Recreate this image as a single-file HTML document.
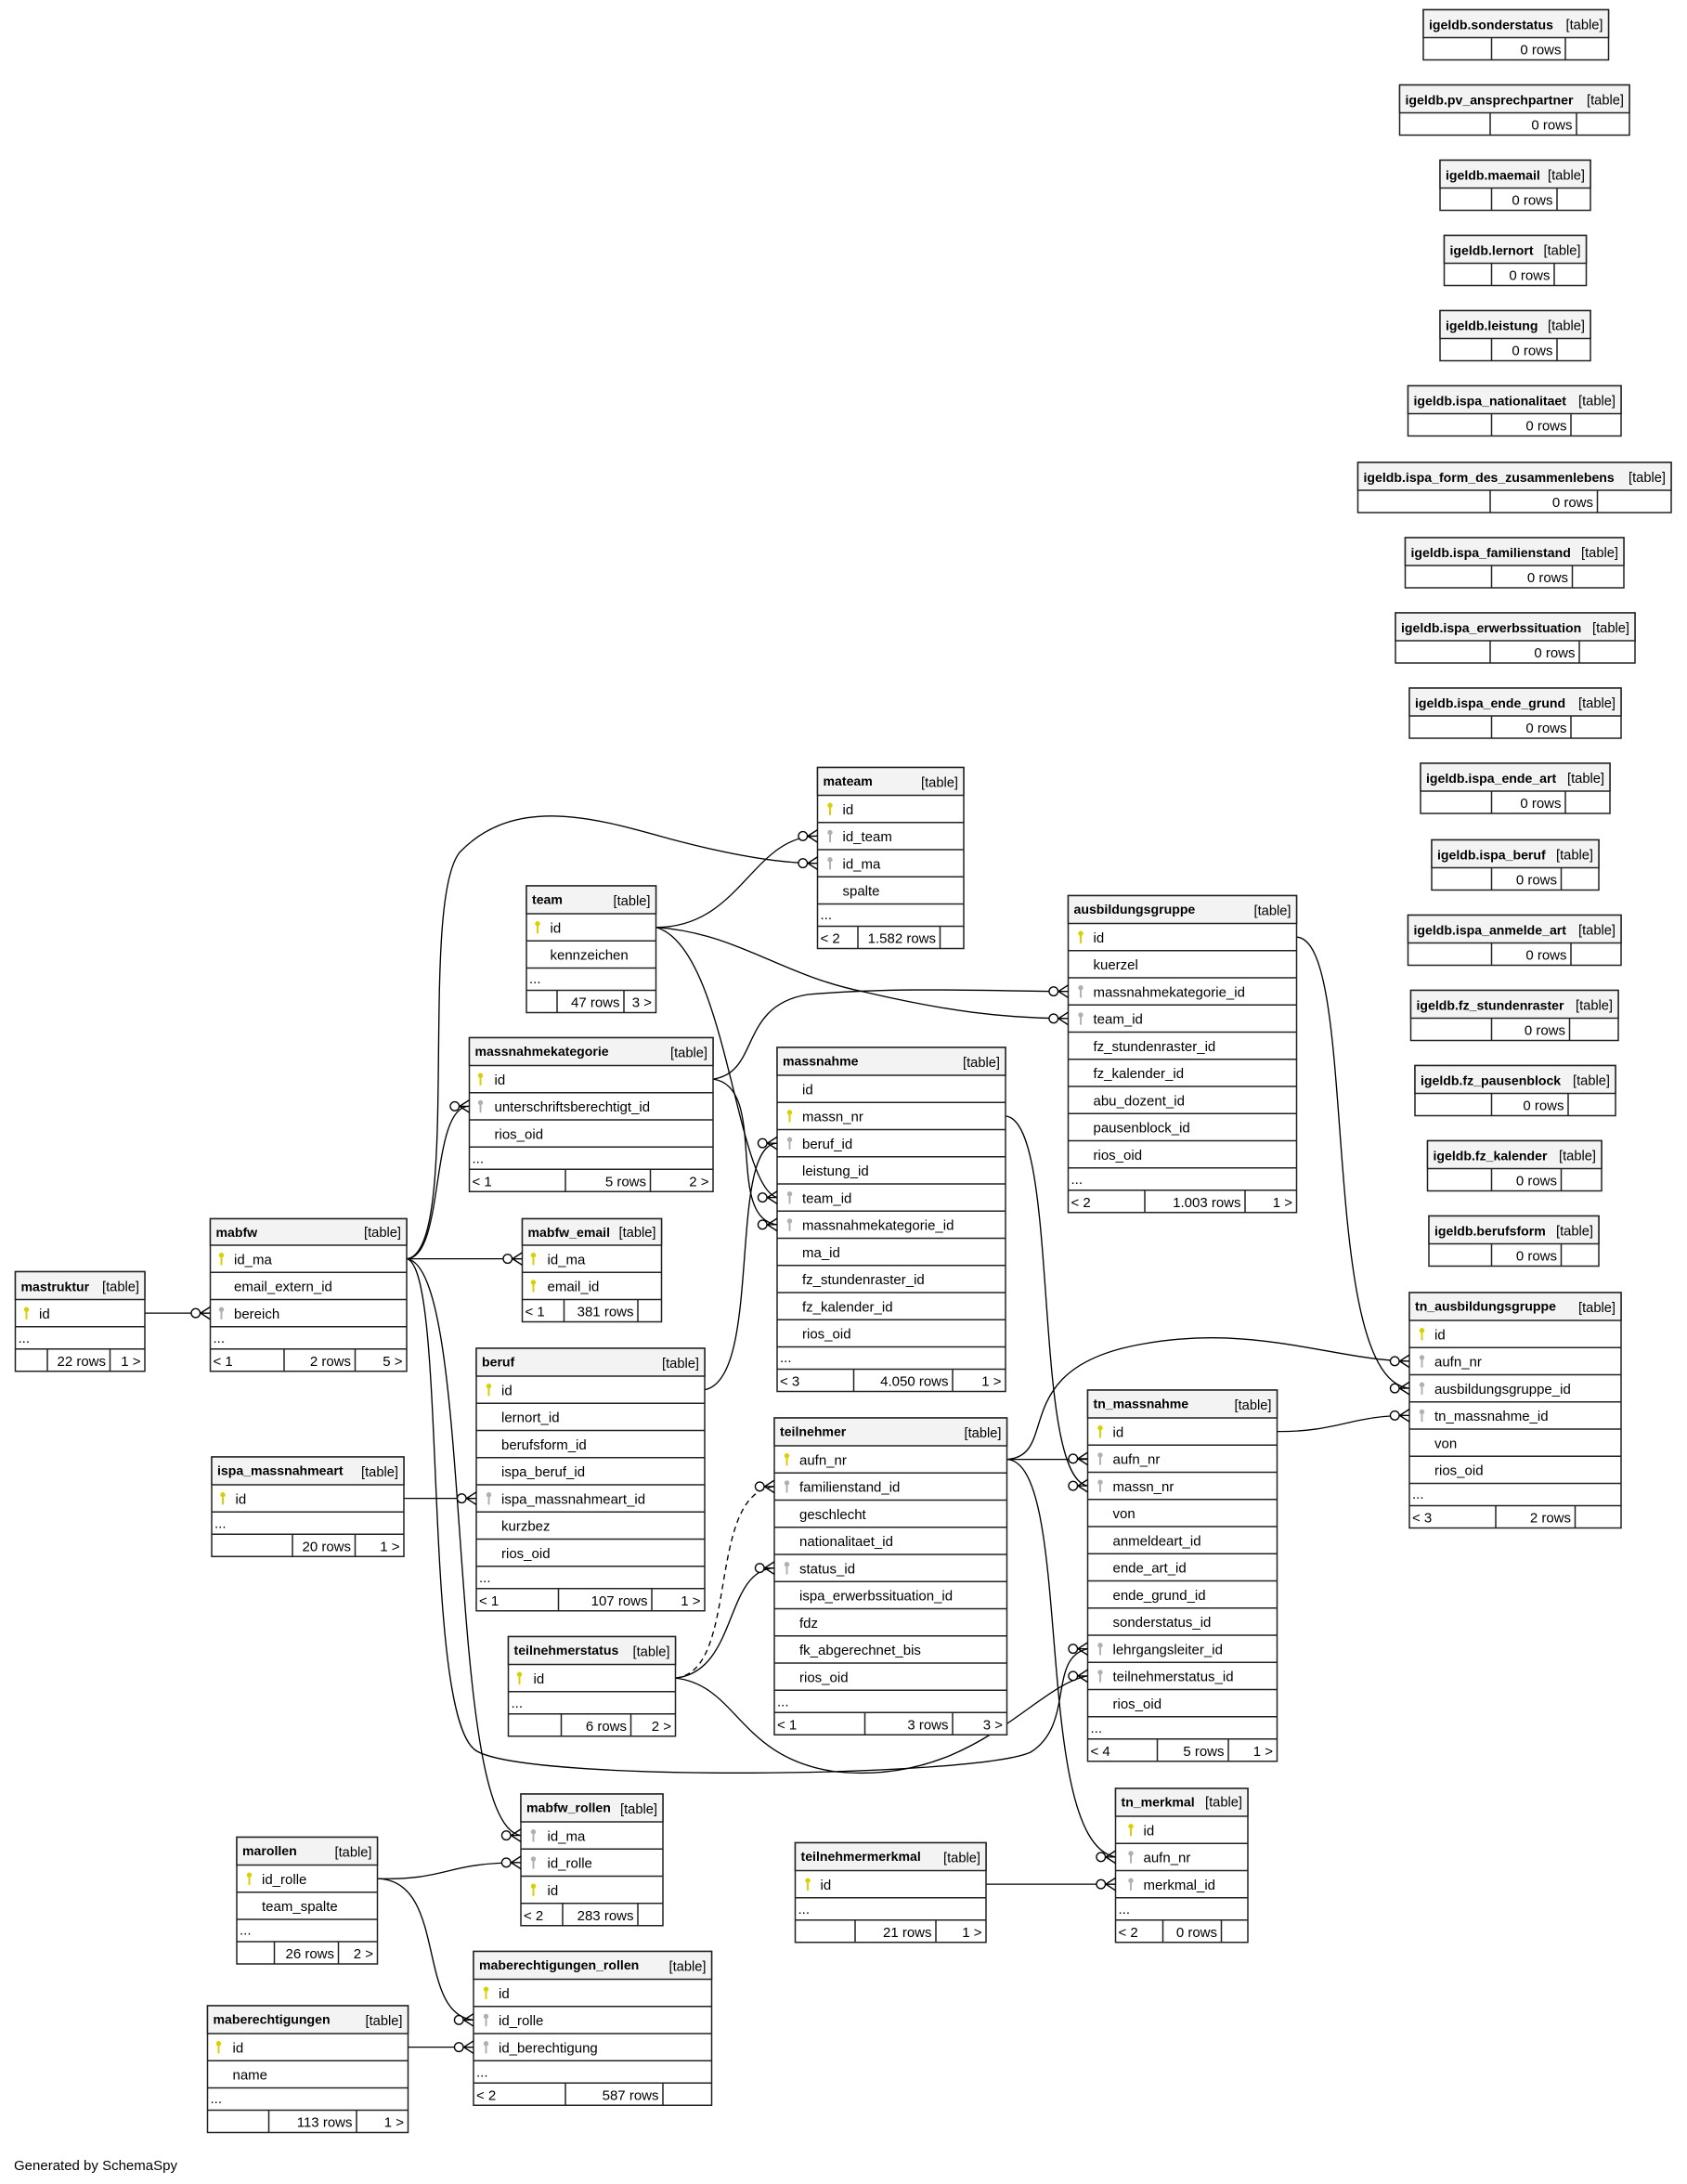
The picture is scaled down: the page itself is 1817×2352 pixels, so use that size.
<!DOCTYPE html>
<html><head><meta charset="utf-8"><style>
html,body{margin:0;padding:0;background:#fff;}
svg{display:block;}
text{font-family:"Liberation Sans",sans-serif;font-size:10px;fill:#000;}
.hn{font-weight:bold;font-size:9.4px;}
.tt{font-size:9.8px;}
.e{text-anchor:end;}
.b{fill:#fff;stroke:#222;stroke-width:1;}
.h{fill:#f3f3f3;stroke:#222;stroke-width:1;}
.l{stroke:#222;stroke-width:1;fill:none;}
.c{stroke:#000;stroke-width:0.9;fill:none;}
</style></head><body>
<svg width="1817" height="2352" viewBox="0 0 1211.33 1568" xmlns="http://www.w3.org/2000/svg">
<defs>
<g id="kp"><circle cx="0" cy="-2.6" r="1.8" fill="#d8d000"/><path d="M0,-1V4.5" stroke="#d8d000" stroke-width="1.3"/></g>
<g id="kf"><circle cx="0" cy="-2.6" r="1.8" fill="#b0b0b0"/><path d="M0,-1V4.5" stroke="#b0b0b0" stroke-width="1.3"/></g>
<g id="cf"><path d="M-7,0L0,-4.5M-7,0L0,4.5M-7,0H0" stroke="#000" stroke-width="0.9" fill="none"/><circle cx="-10.5" cy="0" r="3.2" fill="#fff" stroke="#000" stroke-width="0.9"/></g>
</defs>

<!-- connectors -->
<path class="c" d="M104,942.75H151"/>
<path class="c" d="M292,903.75H375"/>
<path class="c" d="M292,903.75C320,903 308,794 337,794.25"/>
<path class="c" d="M292,903.75C332,900 300,650 330,612C370,570 430,588 480,602C525,614 560,620 587,619.75"/>
<path class="c" d="M292,903.75C322,910 302,1232 342,1257C380,1280 700,1276 740,1258C772,1238 752,1190 781,1183.75"/>
<path class="c" d="M292,903.75C342,910 318,1310 374,1317.75"/>
<path class="c" d="M290,1075.75H342"/>
<path class="c" d="M506,997.75C548,990 522,822 558,820.75"/>
<path class="c" d="M471,665.75C532,666 540,600 587,600.25"/>
<path class="c" d="M471,665.75C530,670 560,700 620,712C680,726 720,731 767,731.25"/>
<path class="c" d="M471,665.75C522,680 528,852 558,859.75"/>
<path class="c" d="M512,774.75C552,780 520,875 558,879.25"/>
<path class="c" d="M512,774.75C546,770 530,722 580,714C650,708 720,712 767,711.75"/>
<path class="c" d="M722,801.25C762,805 740,1060 781,1066.75"/>
<path class="c" d="M723,1047.75H781"/>
<path class="c" d="M723,1047.75C762,1045 722,982 820,965C900,950 960,977 1012,977.25"/>
<path class="c" d="M723,1047.75C772,1050 740,1322 801,1333.25"/>
<path class="c" d="M931,672.75C977,675 945,990 1012,996.75"/>
<path class="c" d="M917,1027.75C962,1028 970,1016 1012,1016.25"/>
<path class="c" d="M485,1204.75C532,1200 506,1072 556,1067.25" stroke-dasharray="4,3"/>
<path class="c" d="M485,1204.75C530,1200 520,1127 556,1125.75"/>
<path class="c" d="M485,1204.75C530,1210 530,1262 600,1272C700,1282 742,1210 781,1203.25"/>
<path class="c" d="M708,1352.75H801"/>
<path class="c" d="M271,1348.75C322,1350 320,1337 374,1337.25"/>
<path class="c" d="M271,1348.75C322,1350 298,1446 340,1450.25"/>
<path class="c" d="M293,1469.75H340"/>

<!-- mastruktur -->
<rect class="b" x="11" y="913" width="93" height="71.5"/><rect class="h" x="11" y="913" width="93" height="20"/>
<path class="l" d="M11,952.5H104M11,968.5H104M34,968.5V984.5M79,968.5V984.5"/>
<text class="hn" x="15" y="927">mastruktur</text><text class="tt e" x="100" y="927">[table]</text>
<use href="#kp" x="19" y="942.75"/><text x="28" y="946.5">id</text>
<text x="13" y="964">...</text><text class="e" x="76" y="980.5">22 rows</text><text class="e" x="101" y="980.5">1 &gt;</text>

<!-- mabfw -->
<rect class="b" x="151" y="875" width="141" height="109.5"/><rect class="h" x="151" y="875" width="141" height="19"/>
<path class="l" d="M151,913.5H292M151,933H292M151,952.5H292M151,968.5H292M204,968.5V984.5M255,968.5V984.5"/>
<text class="hn" x="155" y="888">mabfw</text><text class="tt e" x="288" y="888">[table]</text>
<use href="#kp" x="159" y="903.75"/><text x="168" y="907.5">id_ma</text>
<text x="168" y="927">email_extern_id</text>
<use href="#kf" x="159" y="942.75"/><text x="168" y="946.5">bereich</text>
<text x="153" y="964">...</text><text x="153" y="980.5">&lt; 1</text><text class="e" x="252" y="980.5">2 rows</text><text class="e" x="289" y="980.5">5 &gt;</text>

<!-- mabfw_email -->
<rect class="b" x="375" y="875" width="100" height="74"/><rect class="h" x="375" y="875" width="100" height="19"/>
<path class="l" d="M375,913.5H475M375,933H475M405,933V949M458,933V949"/>
<text class="hn" x="379" y="888">mabfw_email</text><text class="tt e" x="471" y="888">[table]</text>
<use href="#kp" x="383" y="903.75"/><text x="393" y="907.5">id_ma</text>
<use href="#kp" x="383" y="923.25"/><text x="393" y="927">email_id</text>
<text x="377" y="945">&lt; 1</text><text class="e" x="455" y="945">381 rows</text>

<!-- ispa_massnahmeart -->
<rect class="b" x="152" y="1046" width="138" height="71.5"/><rect class="h" x="152" y="1046" width="138" height="20"/>
<path class="l" d="M152,1085.5H290M152,1101.5H290M210,1101.5V1117.5M255,1101.5V1117.5"/>
<text class="hn" x="156" y="1059">ispa_massnahmeart</text><text class="tt e" x="286" y="1060">[table]</text>
<use href="#kp" x="160" y="1075.75"/><text x="169" y="1079.5">id</text>
<text x="154" y="1097">...</text><text class="e" x="252" y="1113.5">20 rows</text><text class="e" x="287" y="1113.5">1 &gt;</text>

<!-- beruf -->
<rect class="b" x="342" y="968" width="164" height="188.5"/><rect class="h" x="342" y="968" width="164" height="20"/>
<path class="l" d="M342,1007.5H506M342,1027H506M342,1046.5H506M342,1066H506M342,1085.5H506M342,1105H506M342,1124.5H506M342,1140.5H506M401,1140.5V1156.5M468,1140.5V1156.5"/>
<text class="hn" x="346" y="981">beruf</text><text class="tt e" x="502" y="982">[table]</text>
<use href="#kp" x="351" y="997.75"/><text x="360" y="1001.5">id</text>
<text x="360" y="1021">lernort_id</text>
<text x="360" y="1040.5">berufsform_id</text>
<text x="360" y="1060">ispa_beruf_id</text>
<use href="#kf" x="351" y="1075.75"/><text x="360" y="1079.5">ispa_massnahmeart_id</text>
<text x="360" y="1099">kurzbez</text>
<text x="360" y="1118.5">rios_oid</text>
<text x="344" y="1136">...</text><text x="344" y="1152.5">&lt; 1</text><text class="e" x="465" y="1152.5">107 rows</text><text class="e" x="503" y="1152.5">1 &gt;</text>

<!-- massnahmekategorie -->
<rect class="b" x="337" y="745" width="175" height="110.5"/><rect class="h" x="337" y="745" width="175" height="20"/>
<path class="l" d="M337,784.5H512M337,804H512M337,823.5H512M337,839.5H512M406,839.5V855.5M467,839.5V855.5"/>
<text class="hn" x="341" y="758">massnahmekategorie</text><text class="tt e" x="508" y="759">[table]</text>
<use href="#kp" x="345" y="774.75"/><text x="355" y="778.5">id</text>
<use href="#kf" x="345" y="794.25"/><text x="355" y="798">unterschriftsberechtigt_id</text>
<text x="355" y="817.5">rios_oid</text>
<text x="339" y="835">...</text><text x="339" y="851.5">&lt; 1</text><text class="e" x="464" y="851.5">5 rows</text><text class="e" x="509" y="851.5">2 &gt;</text>

<!-- team -->
<rect class="b" x="378" y="636" width="93" height="91"/><rect class="h" x="378" y="636" width="93" height="20"/>
<path class="l" d="M378,675.5H471M378,695H471M378,711H471M400,711V727M448,711V727"/>
<text class="hn" x="382" y="649">team</text><text class="tt e" x="467" y="650">[table]</text>
<use href="#kp" x="386" y="665.75"/><text x="395" y="669.5">id</text>
<text x="395" y="689">kennzeichen</text>
<text x="380" y="706">...</text><text class="e" x="445" y="723">47 rows</text><text class="e" x="468" y="723">3 &gt;</text>

<!-- mateam -->
<rect class="b" x="587" y="551" width="105" height="130"/><rect class="h" x="587" y="551" width="105" height="20"/>
<path class="l" d="M587,590.5H692M587,610H692M587,629.5H692M587,649H692M587,665H692M616,665V681M675,665V681"/>
<text class="hn" x="591" y="564">mateam</text><text class="tt e" x="688" y="565">[table]</text>
<use href="#kp" x="596" y="580.75"/><text x="605" y="584.5">id</text>
<use href="#kf" x="596" y="600.25"/><text x="605" y="604">id_team</text>
<use href="#kf" x="596" y="619.75"/><text x="605" y="623.5">id_ma</text>
<text x="605" y="643">spalte</text>
<text x="589" y="660">...</text><text x="589" y="677">&lt; 2</text><text class="e" x="672" y="677">1.582 rows</text>

<!-- massnahme -->
<rect class="b" x="558" y="752" width="164" height="247"/><rect class="h" x="558" y="752" width="164" height="20"/>
<path class="l" d="M558,791.5H722M558,811H722M558,830.5H722M558,850H722M558,869.5H722M558,889H722M558,908.5H722M558,928H722M558,947.5H722M558,967H722M558,983H722M613,983V999M684,983V999"/>
<text class="hn" x="562" y="765">massnahme</text><text class="tt e" x="718" y="766">[table]</text>
<text x="576" y="785.5">id</text>
<use href="#kp" x="567" y="801.25"/><text x="576" y="805">massn_nr</text>
<use href="#kf" x="567" y="820.75"/><text x="576" y="824.5">beruf_id</text>
<text x="576" y="844">leistung_id</text>
<use href="#kf" x="567" y="859.75"/><text x="576" y="863.5">team_id</text>
<use href="#kf" x="567" y="879.25"/><text x="576" y="883">massnahmekategorie_id</text>
<text x="576" y="902.5">ma_id</text>
<text x="576" y="922">fz_stundenraster_id</text>
<text x="576" y="941.5">fz_kalender_id</text>
<text x="576" y="961">rios_oid</text>
<text x="560" y="978">...</text><text x="560" y="995">&lt; 3</text><text class="e" x="681" y="995">4.050 rows</text><text class="e" x="719" y="995">1 &gt;</text>

<!-- ausbildungsgruppe -->
<rect class="b" x="767" y="643" width="164" height="227.5"/><rect class="h" x="767" y="643" width="164" height="20"/>
<path class="l" d="M767,682.5H931M767,702H931M767,721.5H931M767,741H931M767,760.5H931M767,780H931M767,799.5H931M767,819H931M767,838.5H931M767,854.5H931M822,854.5V870.5M894,854.5V870.5"/>
<text class="hn" x="771" y="656">ausbildungsgruppe</text><text class="tt e" x="927" y="657">[table]</text>
<use href="#kp" x="776" y="672.75"/><text x="785" y="676.5">id</text>
<text x="785" y="696">kuerzel</text>
<use href="#kf" x="776" y="711.75"/><text x="785" y="715.5">massnahmekategorie_id</text>
<use href="#kf" x="776" y="731.25"/><text x="785" y="735">team_id</text>
<text x="785" y="754.5">fz_stundenraster_id</text>
<text x="785" y="774">fz_kalender_id</text>
<text x="785" y="793.5">abu_dozent_id</text>
<text x="785" y="813">pausenblock_id</text>
<text x="785" y="832.5">rios_oid</text>
<text x="769" y="850">...</text><text x="769" y="866.5">&lt; 2</text><text class="e" x="891" y="866.5">1.003 rows</text><text class="e" x="928" y="866.5">1 &gt;</text>

<!-- teilnehmer -->
<rect class="b" x="556" y="1018" width="167" height="227.5"/><rect class="h" x="556" y="1018" width="167" height="20"/>
<path class="l" d="M556,1057.5H723M556,1077H723M556,1096.5H723M556,1116H723M556,1135.5H723M556,1155H723M556,1174.5H723M556,1194H723M556,1213.5H723M556,1229.5H723M621,1229.5V1245.5M684,1229.5V1245.5"/>
<text class="hn" x="560" y="1031">teilnehmer</text><text class="tt e" x="719" y="1032">[table]</text>
<use href="#kp" x="565" y="1047.75"/><text x="574" y="1051.5">aufn_nr</text>
<use href="#kf" x="565" y="1067.25"/><text x="574" y="1071">familienstand_id</text>
<text x="574" y="1090.5">geschlecht</text>
<text x="574" y="1110">nationalitaet_id</text>
<use href="#kf" x="565" y="1125.75"/><text x="574" y="1129.5">status_id</text>
<text x="574" y="1149">ispa_erwerbssituation_id</text>
<text x="574" y="1168.5">fdz</text>
<text x="574" y="1188">fk_abgerechnet_bis</text>
<text x="574" y="1207.5">rios_oid</text>
<text x="558" y="1225">...</text><text x="558" y="1241.5">&lt; 1</text><text class="e" x="681" y="1241.5">3 rows</text><text class="e" x="720" y="1241.5">3 &gt;</text>

<!-- teilnehmerstatus -->
<rect class="b" x="365" y="1175" width="120" height="71.5"/><rect class="h" x="365" y="1175" width="120" height="20"/>
<path class="l" d="M365,1214.5H485M365,1230.5H485M403,1230.5V1246.5M453,1230.5V1246.5"/>
<text class="hn" x="369" y="1188">teilnehmerstatus</text><text class="tt e" x="481" y="1189">[table]</text>
<use href="#kp" x="373" y="1204.75"/><text x="383" y="1208.5">id</text>
<text x="367" y="1226">...</text><text class="e" x="450" y="1242.5">6 rows</text><text class="e" x="482" y="1242.5">2 &gt;</text>

<!-- tn_massnahme -->
<rect class="b" x="781" y="998" width="136" height="266.5"/><rect class="h" x="781" y="998" width="136" height="20"/>
<path class="l" d="M781,1037.5H917M781,1057H917M781,1076.5H917M781,1096H917M781,1115.5H917M781,1135H917M781,1154.5H917M781,1174H917M781,1193.5H917M781,1213H917M781,1232.5H917M781,1248.5H917M831,1248.5V1264.5M882,1248.5V1264.5"/>
<text class="hn" x="785" y="1011">tn_massnahme</text><text class="tt e" x="913" y="1012">[table]</text>
<use href="#kp" x="790" y="1027.75"/><text x="799" y="1031.5">id</text>
<use href="#kf" x="790" y="1047.25"/><text x="799" y="1051">aufn_nr</text>
<use href="#kf" x="790" y="1066.75"/><text x="799" y="1070.5">massn_nr</text>
<text x="799" y="1090">von</text>
<text x="799" y="1109.5">anmeldeart_id</text>
<text x="799" y="1129">ende_art_id</text>
<text x="799" y="1148.5">ende_grund_id</text>
<text x="799" y="1168">sonderstatus_id</text>
<use href="#kf" x="790" y="1183.75"/><text x="799" y="1187.5">lehrgangsleiter_id</text>
<use href="#kf" x="790" y="1203.25"/><text x="799" y="1207">teilnehmerstatus_id</text>
<text x="799" y="1226.5">rios_oid</text>
<text x="783" y="1244">...</text><text x="783" y="1260.5">&lt; 4</text><text class="e" x="879" y="1260.5">5 rows</text><text class="e" x="914" y="1260.5">1 &gt;</text>

<!-- tn_ausbildungsgruppe -->
<rect class="b" x="1012" y="928" width="152" height="169"/><rect class="h" x="1012" y="928" width="152" height="20"/>
<path class="l" d="M1012,967.5H1164M1012,987H1164M1012,1006.5H1164M1012,1026H1164M1012,1045.5H1164M1012,1065H1164M1012,1081H1164M1074,1081V1097M1131,1081V1097"/>
<text class="hn" x="1016" y="941">tn_ausbildungsgruppe</text><text class="tt e" x="1160" y="942">[table]</text>
<use href="#kp" x="1021" y="957.75"/><text x="1030" y="961.5">id</text>
<use href="#kf" x="1021" y="977.25"/><text x="1030" y="981">aufn_nr</text>
<use href="#kf" x="1021" y="996.75"/><text x="1030" y="1000.5">ausbildungsgruppe_id</text>
<use href="#kf" x="1021" y="1016.25"/><text x="1030" y="1020">tn_massnahme_id</text>
<text x="1030" y="1039.5">von</text>
<text x="1030" y="1059">rios_oid</text>
<text x="1014" y="1076">...</text><text x="1014" y="1093">&lt; 3</text><text class="e" x="1128" y="1093">2 rows</text>

<!-- tn_merkmal -->
<rect class="b" x="801" y="1284" width="95" height="110.5"/><rect class="h" x="801" y="1284" width="95" height="20"/>
<path class="l" d="M801,1323.5H896M801,1343H896M801,1362.5H896M801,1378.5H896M835,1378.5V1394.5M877,1378.5V1394.5"/>
<text class="hn" x="805" y="1297">tn_merkmal</text><text class="tt e" x="892" y="1297">[table]</text>
<use href="#kp" x="812" y="1313.75"/><text x="821" y="1317.5">id</text>
<use href="#kf" x="812" y="1333.25"/><text x="821" y="1337">aufn_nr</text>
<use href="#kf" x="812" y="1352.75"/><text x="821" y="1356.5">merkmal_id</text>
<text x="803" y="1374">...</text><text x="803" y="1390.5">&lt; 2</text><text class="e" x="874" y="1390.5">0 rows</text>

<!-- teilnehmermerkmal -->
<rect class="b" x="571" y="1323" width="137" height="71.5"/><rect class="h" x="571" y="1323" width="137" height="20"/>
<path class="l" d="M571,1362.5H708M571,1378.5H708M614,1378.5V1394.5M672,1378.5V1394.5"/>
<text class="hn" x="575" y="1336">teilnehmermerkmal</text><text class="tt e" x="704" y="1337">[table]</text>
<use href="#kp" x="580" y="1352.75"/><text x="589" y="1356.5">id</text>
<text x="573" y="1374">...</text><text class="e" x="669" y="1390.5">21 rows</text><text class="e" x="705" y="1390.5">1 &gt;</text>

<!-- mabfw_rollen -->
<rect class="b" x="374" y="1288" width="102" height="94.5"/><rect class="h" x="374" y="1288" width="102" height="20"/>
<path class="l" d="M374,1327.5H476M374,1347H476M374,1366.5H476M404,1366.5V1382.5M458,1366.5V1382.5"/>
<text class="hn" x="378" y="1301">mabfw_rollen</text><text class="tt e" x="472" y="1302">[table]</text>
<use href="#kf" x="383" y="1317.75"/><text x="393" y="1321.5">id_ma</text>
<use href="#kf" x="383" y="1337.25"/><text x="393" y="1341">id_rolle</text>
<use href="#kp" x="383" y="1356.75"/><text x="393" y="1360.5">id</text>
<text x="376" y="1378.5">&lt; 2</text><text class="e" x="455" y="1378.5">283 rows</text>

<!-- marollen -->
<rect class="b" x="170" y="1319" width="101" height="91"/><rect class="h" x="170" y="1319" width="101" height="20"/>
<path class="l" d="M170,1358.5H271M170,1378H271M170,1394H271M197,1394V1410M243,1394V1410"/>
<text class="hn" x="174" y="1332">marollen</text><text class="tt e" x="267" y="1333">[table]</text>
<use href="#kp" x="179" y="1348.75"/><text x="188" y="1352.5">id_rolle</text>
<text x="188" y="1372">team_spalte</text>
<text x="172" y="1389">...</text><text class="e" x="240" y="1406">26 rows</text><text class="e" x="268" y="1406">2 &gt;</text>

<!-- maberechtigungen_rollen -->
<rect class="b" x="340" y="1401" width="171" height="110.5"/><rect class="h" x="340" y="1401" width="171" height="20"/>
<path class="l" d="M340,1440.5H511M340,1460H511M340,1479.5H511M340,1495.5H511M406,1495.5V1511.5M476,1495.5V1511.5"/>
<text class="hn" x="344" y="1414">maberechtigungen_rollen</text><text class="tt e" x="507" y="1415">[table]</text>
<use href="#kp" x="349" y="1430.75"/><text x="358" y="1434.5">id</text>
<use href="#kf" x="349" y="1450.25"/><text x="358" y="1454">id_rolle</text>
<use href="#kf" x="349" y="1469.75"/><text x="358" y="1473.5">id_berechtigung</text>
<text x="342" y="1491">...</text><text x="342" y="1507.5">&lt; 2</text><text class="e" x="473" y="1507.5">587 rows</text>

<!-- maberechtigungen -->
<rect class="b" x="149" y="1440" width="144" height="91"/><rect class="h" x="149" y="1440" width="144" height="20"/>
<path class="l" d="M149,1479.5H293M149,1499H293M149,1515H293M193,1515V1531M256,1515V1531"/>
<text class="hn" x="153" y="1453">maberechtigungen</text><text class="tt e" x="289" y="1454">[table]</text>
<use href="#kp" x="157" y="1469.75"/><text x="167" y="1473.5">id</text>
<text x="167" y="1493">name</text>
<text x="151" y="1510">...</text><text class="e" x="253" y="1527">113 rows</text><text class="e" x="290" y="1527">1 &gt;</text>

<!-- crow's feet -->
<use href="#cf" x="151" y="942.75"/>
<use href="#cf" x="375" y="903.75"/>
<use href="#cf" x="337" y="794.25"/>
<use href="#cf" x="587" y="619.75"/>
<use href="#cf" x="781" y="1183.75"/>
<use href="#cf" x="374" y="1317.75"/>
<use href="#cf" x="342" y="1075.75"/>
<use href="#cf" x="558" y="820.75"/>
<use href="#cf" x="587" y="600.25"/>
<use href="#cf" x="767" y="731.25"/>
<use href="#cf" x="558" y="859.75"/>
<use href="#cf" x="558" y="879.25"/>
<use href="#cf" x="767" y="711.75"/>
<use href="#cf" x="781" y="1066.75"/>
<use href="#cf" x="781" y="1047.25"/>
<use href="#cf" x="1012" y="977.25"/>
<use href="#cf" x="801" y="1333.25"/>
<use href="#cf" x="1012" y="996.75"/>
<use href="#cf" x="1012" y="1016.25"/>
<use href="#cf" x="556" y="1067.25"/>
<use href="#cf" x="556" y="1125.75"/>
<use href="#cf" x="781" y="1203.25"/>
<use href="#cf" x="801" y="1352.75"/>
<use href="#cf" x="374" y="1337.25"/>
<use href="#cf" x="340" y="1450.25"/>
<use href="#cf" x="340" y="1469.75"/>

<!-- igeldb tables -->
<g>
<rect class="b" x="1022" y="7" width="133" height="36"/><rect class="h" x="1022" y="7" width="133" height="20"/><path class="l" d="M1071,27V43M1124,27V43"/>
<text class="hn" x="1026" y="21">igeldb.sonderstatus</text><text class="tt e" x="1151" y="21">[table]</text><text class="e" x="1121" y="39">0 rows</text>

<rect class="b" x="1005" y="61" width="165" height="36"/><rect class="h" x="1005" y="61" width="165" height="20"/><path class="l" d="M1070,81V97M1132,81V97"/>
<text class="hn" x="1009" y="75">igeldb.pv_ansprechpartner</text><text class="tt e" x="1166" y="75">[table]</text><text class="e" x="1129" y="93">0 rows</text>

<rect class="b" x="1034" y="115" width="108" height="36"/><rect class="h" x="1034" y="115" width="108" height="20"/><path class="l" d="M1071,135V151M1118,135V151"/>
<text class="hn" x="1038" y="129">igeldb.maemail</text><text class="tt e" x="1138" y="129">[table]</text><text class="e" x="1115" y="147">0 rows</text>

<rect class="b" x="1037" y="169" width="102" height="36"/><rect class="h" x="1037" y="169" width="102" height="20"/><path class="l" d="M1071,189V205M1116,189V205"/>
<text class="hn" x="1041" y="183">igeldb.lernort</text><text class="tt e" x="1135" y="183">[table]</text><text class="e" x="1113" y="201">0 rows</text>

<rect class="b" x="1034" y="223" width="108" height="36"/><rect class="h" x="1034" y="223" width="108" height="20"/><path class="l" d="M1071,243V259M1118,243V259"/>
<text class="hn" x="1038" y="237">igeldb.leistung</text><text class="tt e" x="1138" y="237">[table]</text><text class="e" x="1115" y="255">0 rows</text>

<rect class="b" x="1011" y="277" width="153" height="36"/><rect class="h" x="1011" y="277" width="153" height="20"/><path class="l" d="M1071,297V313M1128,297V313"/>
<text class="hn" x="1015" y="291">igeldb.ispa_nationalitaet</text><text class="tt e" x="1160" y="291">[table]</text><text class="e" x="1125" y="309">0 rows</text>

<rect class="b" x="975" y="332" width="225" height="36"/><rect class="h" x="975" y="332" width="225" height="20"/><path class="l" d="M1070,352V368M1147,352V368"/>
<text class="hn" x="979" y="346">igeldb.ispa_form_des_zusammenlebens</text><text class="tt e" x="1196" y="346">[table]</text><text class="e" x="1144" y="364">0 rows</text>

<rect class="b" x="1009" y="386" width="157" height="36"/><rect class="h" x="1009" y="386" width="157" height="20"/><path class="l" d="M1071,406V422M1129,406V422"/>
<text class="hn" x="1013" y="400">igeldb.ispa_familienstand</text><text class="tt e" x="1162" y="400">[table]</text><text class="e" x="1126" y="418">0 rows</text>

<rect class="b" x="1002" y="440" width="172" height="36"/><rect class="h" x="1002" y="440" width="172" height="20"/><path class="l" d="M1070,460V476M1134,460V476"/>
<text class="hn" x="1006" y="454">igeldb.ispa_erwerbssituation</text><text class="tt e" x="1170" y="454">[table]</text><text class="e" x="1131" y="472">0 rows</text>

<rect class="b" x="1012" y="494" width="152" height="36"/><rect class="h" x="1012" y="494" width="152" height="20"/><path class="l" d="M1071,514V530M1128,514V530"/>
<text class="hn" x="1016" y="508">igeldb.ispa_ende_grund</text><text class="tt e" x="1160" y="508">[table]</text><text class="e" x="1125" y="526">0 rows</text>

<rect class="b" x="1020" y="548" width="136" height="36"/><rect class="h" x="1020" y="548" width="136" height="20"/><path class="l" d="M1071,568V584M1124,568V584"/>
<text class="hn" x="1024" y="562">igeldb.ispa_ende_art</text><text class="tt e" x="1152" y="562">[table]</text><text class="e" x="1121" y="580">0 rows</text>

<rect class="b" x="1028" y="603" width="120" height="36"/><rect class="h" x="1028" y="603" width="120" height="20"/><path class="l" d="M1071,623V639M1121,623V639"/>
<text class="hn" x="1032" y="617">igeldb.ispa_beruf</text><text class="tt e" x="1144" y="617">[table]</text><text class="e" x="1118" y="635">0 rows</text>

<rect class="b" x="1011" y="657" width="153" height="36"/><rect class="h" x="1011" y="657" width="153" height="20"/><path class="l" d="M1071,677V693M1128,677V693"/>
<text class="hn" x="1015" y="671">igeldb.ispa_anmelde_art</text><text class="tt e" x="1160" y="671">[table]</text><text class="e" x="1125" y="689">0 rows</text>

<rect class="b" x="1013" y="711" width="149" height="36"/><rect class="h" x="1013" y="711" width="149" height="20"/><path class="l" d="M1071,731V747M1127,731V747"/>
<text class="hn" x="1017" y="725">igeldb.fz_stundenraster</text><text class="tt e" x="1158" y="725">[table]</text><text class="e" x="1124" y="743">0 rows</text>

<rect class="b" x="1016" y="765" width="144" height="36"/><rect class="h" x="1016" y="765" width="144" height="20"/><path class="l" d="M1071,785V801M1126,785V801"/>
<text class="hn" x="1020" y="779">igeldb.fz_pausenblock</text><text class="tt e" x="1156" y="779">[table]</text><text class="e" x="1123" y="797">0 rows</text>

<rect class="b" x="1025" y="819" width="125" height="36"/><rect class="h" x="1025" y="819" width="125" height="20"/><path class="l" d="M1071,839V855M1121,839V855"/>
<text class="hn" x="1029" y="833">igeldb.fz_kalender</text><text class="tt e" x="1146" y="833">[table]</text><text class="e" x="1118" y="851">0 rows</text>

<rect class="b" x="1026" y="873" width="122" height="36"/><rect class="h" x="1026" y="873" width="122" height="20"/><path class="l" d="M1071,893V909M1121,893V909"/>
<text class="hn" x="1030" y="887">igeldb.berufsform</text><text class="tt e" x="1144" y="887">[table]</text><text class="e" x="1118" y="905">0 rows</text>
</g>

<text x="10" y="1558">Generated by SchemaSpy</text>
</svg>
</body></html>
